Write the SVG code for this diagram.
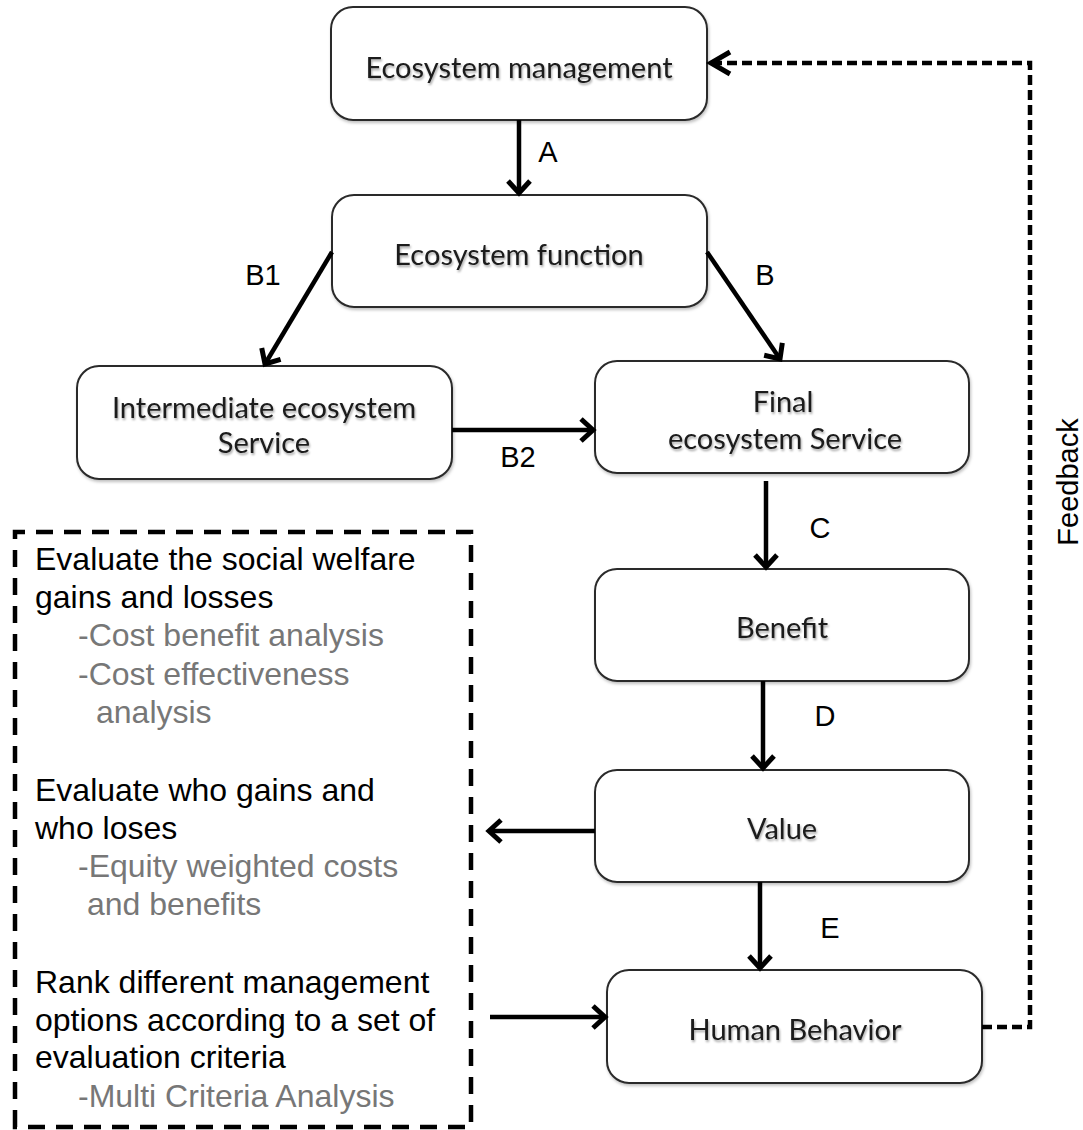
<svg xmlns="http://www.w3.org/2000/svg" width="1083" height="1130" viewBox="0 0 1083 1130">
<defs>
<filter id="ts" x="-10%" y="-30%" width="120%" height="170%">
<feDropShadow dx="1" dy="2" stdDeviation="1.3" flood-color="#000" flood-opacity="0.35"/>
</filter>
<filter id="bs" x="-5%" y="-10%" width="110%" height="125%">
<feDropShadow dx="1" dy="2" stdDeviation="1.5" flood-color="#000" flood-opacity="0.25"/>
</filter>
<marker id="arr" markerUnits="userSpaceOnUse" markerWidth="26" markerHeight="26" viewBox="0 0 26 26" refX="22" refY="13" orient="auto">
<path d="M10,2 L22,13 L10,24" fill="none" stroke="#000" stroke-width="5" stroke-linejoin="miter"/>
</marker>
</defs>
<style>
.box{fill:#fff;stroke:#2a2a2a;stroke-width:2;filter:url(#bs)}
.bt{font-family:Lato,"Noto Sans",sans-serif;font-size:29px;fill:#1a1a1a;text-anchor:middle;filter:url(#ts)}
.lbl{font-family:"Liberation Sans",Arial,sans-serif;font-size:29px;fill:#000;text-anchor:middle}
.tx{font-family:"Liberation Sans",Arial,sans-serif;font-size:32px;fill:#000}
.gr{fill:#777}
.ln{fill:none;stroke:#000;stroke-width:4.5;marker-end:url(#arr)}
.dash{fill:none;stroke:#000;stroke-width:4.5;stroke-dasharray:17 11}
.fb{fill:none;stroke:#000;stroke-width:4.5;stroke-dasharray:10 5}
</style>
<rect width="1083" height="1130" fill="#fff"/>

<g id="n-management">
<rect class="box" x="331" y="7" width="376" height="113" rx="22"/>
<text class="bt" x="519" y="78">Ecosystem management</text>
</g>
<g id="n-function">
<rect class="box" x="332" y="195" width="375" height="112" rx="22"/>
<text class="bt" x="519" y="265">Ecosystem function</text>
</g>
<g id="n-intermediate">
<rect class="box" x="77" y="366" width="375" height="113" rx="22"/>
<text class="bt" x="264" y="418">Intermediate ecosystem</text>
<text class="bt" x="264" y="453">Service</text>
</g>
<g id="n-final">
<rect class="box" x="595" y="361" width="374" height="112" rx="22"/>
<text class="bt" x="783" y="412">Final</text>
<text class="bt" x="785" y="449">ecosystem Service</text>
</g>
<g id="n-benefit">
<rect class="box" x="595" y="569" width="374" height="112" rx="22"/>
<text class="bt" x="782" y="638">Benefit</text>
</g>
<g id="n-value">
<rect class="box" x="595" y="770" width="374" height="112" rx="22"/>
<text class="bt" x="782" y="839">Value</text>
</g>
<g id="n-human">
<rect class="box" x="607" y="970" width="375" height="113" rx="22"/>
<text class="bt" x="795" y="1040">Human Behavior</text>
</g>

<g id="n-evaluation">
<path class="dash" d="M15,1127 L15,532 L471,532 L471,1127 Z"/>
<text class="tx" x="35" y="570">Evaluate the social welfare</text>
<text class="tx" x="35" y="608">gains and losses</text>
<text class="tx gr" x="78" y="646">-Cost benefit analysis</text>
<text class="tx gr" x="78" y="685">-Cost effectiveness</text>
<text class="tx gr" x="96" y="723">analysis</text>
<text class="tx" x="35" y="801">Evaluate who gains and</text>
<text class="tx" x="35" y="839">who loses</text>
<text class="tx gr" x="78" y="877">-Equity weighted costs</text>
<text class="tx gr" x="87" y="915">and benefits</text>
<text class="tx" x="35" y="993">Rank different management</text>
<text class="tx" x="35" y="1031">options according to a set of</text>
<text class="tx" x="35" y="1068">evaluation criteria</text>
<text class="tx gr" x="78" y="1107">-Multi Criteria Analysis</text>
</g>

<g id="connectors">
<line class="ln" x1="519" y1="120" x2="519" y2="193"/>
<line class="ln" x1="332" y1="252" x2="265" y2="364"/>
<line class="ln" x1="707" y1="252" x2="780" y2="359"/>
<line class="ln" x1="452" y1="430" x2="593" y2="430"/>
<line class="ln" x1="766" y1="481" x2="766" y2="567"/>
<line class="ln" x1="763" y1="681" x2="763" y2="768"/>
<line class="ln" x1="595" y1="831" x2="489" y2="831"/>
<line class="ln" x1="760" y1="882" x2="760" y2="968"/>
<line class="ln" x1="490" y1="1017" x2="605" y2="1017"/>
<path class="fb" d="M982,1027 L1030,1027 L1030,63 L712,63"/>
<path d="M730,52 L711,63 L730,74" fill="none" stroke="#000" stroke-width="5"/>
<text class="lbl" x="548" y="162">A</text>
<text class="lbl" x="263" y="285">B1</text>
<text class="lbl" x="765" y="285">B</text>
<text class="lbl" x="518" y="467">B2</text>
<text class="lbl" x="820" y="538">C</text>
<text class="lbl" x="825" y="726">D</text>
<text class="lbl" x="830" y="938">E</text>
<text class="lbl" font-size="30" transform="translate(1078,482) rotate(-90)">Feedback</text>
</g>
</svg>
